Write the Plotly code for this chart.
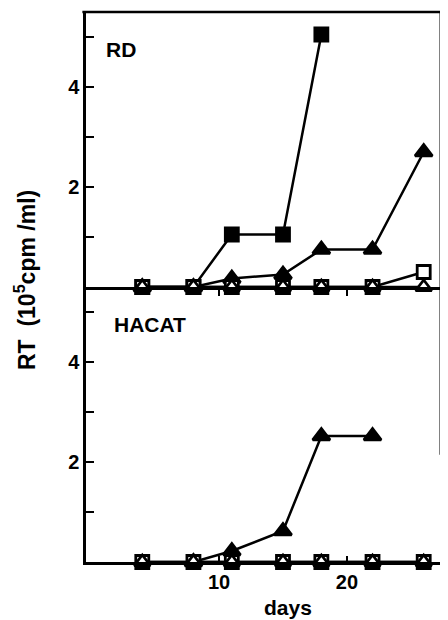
import plotly.graph_objects as go
from plotly.subplots import make_subplots

days = [4, 8, 11, 15, 18, 22, 26]

# RD panel
rd_filled_sq_days = [4, 8, 11, 15, 18]
rd_filled_sq = [0, 0, 1.05, 1.05, 5.05]
rd_filled_tri = [0, 0, 0.17, 0.25, 0.75, 0.75, 2.7]
rd_open_sq = [0, 0, 0, 0, 0, 0, 0.3]
rd_open_tri = [0, 0, 0, 0, 0, 0, 0]

# HACAT panel
hacat_filled_tri_days = [8, 11, 15, 18, 22]
hacat_filled_tri = [0, 0.22, 0.62, 2.52, 2.52]
hacat_open_sq = [0, 0, 0, 0, 0, 0, 0]
hacat_open_tri = [0, 0, 0, 0, 0, 0, 0]

ytickvals = [1, 2, 3, 4, 5]
yticktext = ["", "2", "", "4", ""]
xtickvals = [10, 20]
xticktext = ["10", "20"]

FONT = "Liberation Sans, Arial, sans-serif"
LW = 2.5

fig = make_subplots(rows=2, cols=1, shared_xaxes=True, vertical_spacing=0)


def add(x, y, symbol, filled, row, size):
    fig.add_trace(go.Scatter(
        x=x, y=y, mode="lines+markers", cliponaxis=False,
        line=dict(color="black", width=LW),
        marker=dict(symbol=symbol, size=size,
                    color="black" if filled else "white",
                    line=dict(color="black", width=2.8)),
        showlegend=False), row=row, col=1)


add(rd_filled_sq_days, rd_filled_sq, "square", True, 1, 13)
add(days, rd_filled_tri, "triangle-up", True, 1, 15)
add(days, rd_open_sq, "square", False, 1, 13)
add(days, rd_open_tri, "triangle-up", False, 1, 14)

add(hacat_filled_tri_days, hacat_filled_tri, "triangle-up", True, 2, 15)
add(days, hacat_open_sq, "square", False, 2, 13)
add(days, hacat_open_tri, "triangle-up", False, 2, 14)

yax = dict(range=[0, 5.5], showline=True, linecolor="black", linewidth=LW,
           ticks="inside", ticklen=8, tickwidth=2, tickcolor="black",
           tickvals=ytickvals, ticktext=yticktext, showgrid=False,
           zeroline=False, fixedrange=True,
           tickfont=dict(family=FONT, size=20, color="black", weight="bold"))
fig.update_yaxes(**yax)

xcommon = dict(range=[-0.4, 27.9], showline=True, linecolor="black",
               linewidth=LW, showgrid=False, zeroline=False,
               tickvals=xtickvals, ticktext=xticktext, tickwidth=2,
               tickcolor="black")
fig.update_xaxes(row=1, col=1, ticks="outside", ticklen=6,
                 showticklabels=False, **xcommon)
fig.update_xaxes(row=2, col=1, ticks="inside", ticklen=6,
                 showticklabels=True,
                 tickfont=dict(family=FONT, size=20, color="black", weight="bold"),
                 **xcommon)

# frame (top and right borders)
fig.add_shape(type="line", xref="paper", yref="paper", x0=-0.01, x1=0.98,
              y0=1, y1=1, line=dict(color="black", width=LW))
fig.add_shape(type="line", xref="paper", yref="paper", x0=0.98, x1=0.98,
              y0=1, y1=0.195, line=dict(color="black", width=LW))

fig.add_annotation(text="RD", xref="paper", yref="paper", x=0.05, y=0.931,
                   xanchor="left", yanchor="middle", showarrow=False,
                   font=dict(family=FONT, size=21, color="black", weight="bold"))
fig.add_annotation(text="HACAT", xref="paper", yref="paper", x=0.072, y=0.431,
                   xanchor="left", yanchor="middle", showarrow=False,
                   font=dict(family=FONT, size=21, color="black", weight="bold"))
fig.add_annotation(text="RT  (10<sup>5</sup>cpm /ml)", xref="paper", yref="paper",
                   x=-0.168, y=0.513, textangle=-90, xanchor="center",
                   yanchor="middle", showarrow=False,
                   font=dict(family=FONT, size=23, color="black", weight="bold"))
fig.add_annotation(text="days", xref="paper", yref="paper", x=0.558, y=-0.082,
                   xanchor="center", yanchor="middle", showarrow=False,
                   font=dict(family=FONT, size=21, color="black", weight="bold"))

fig.update_layout(width=440, height=612,
                  margin=dict(l=78, r=0, t=4, b=58),
                  plot_bgcolor="white", paper_bgcolor="white")

fig.write_html("out.html")
